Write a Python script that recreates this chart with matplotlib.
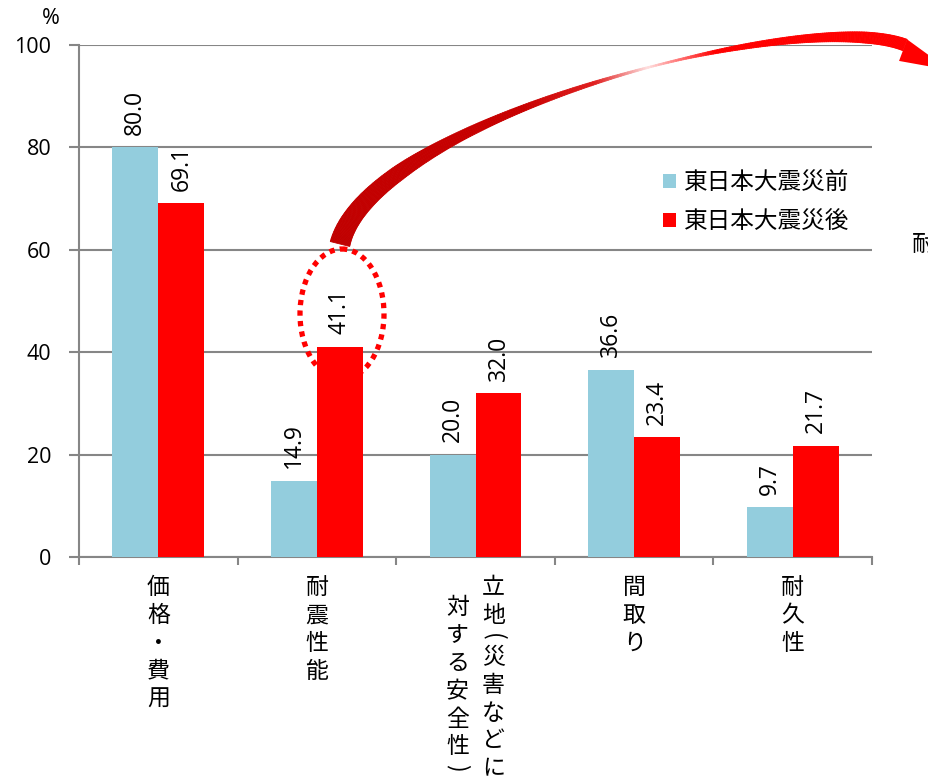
import numpy as np
import matplotlib
matplotlib.use("Agg")
import matplotlib.pyplot as plt
from matplotlib.patches import Ellipse, Polygon
from matplotlib.collections import PolyCollection
from matplotlib.colors import to_rgb

plt.rcParams['font.family'] = ['Noto Sans CJK JP', 'DejaVu Sans']
NUM_FONT = ["Open Sans", "DejaVu Sans"]

# data
categories = [["価格・費用"], ["耐震性能"], ["立地(災害などに", "対する安全性)"], ["間取り"], ["耐久性"]]
before = [80.0, 14.9, 20.0, 36.6, 9.7]
after = [69.1, 41.1, 32.0, 23.4, 21.7]
series_names = ["東日本大震災前", "東日本大震災後"]
colors = ["#93CDDD", "#FF0000"]

W, H = 929, 782
PT = 0.72  # points per pixel at dpi 100
fig = plt.figure(figsize=(W / 100, H / 100), dpi=100)
ax = fig.add_axes([79 / W, 1 - 557 / H, (872 - 79) / W, (557 - 45) / H])

x = np.arange(len(categories))
bw = 0.29
b1 = ax.bar(x - bw / 2, before, bw, color=colors[0], label=series_names[0], zorder=3)
b2 = ax.bar(x + bw / 2, after, bw, color=colors[1], label=series_names[1], zorder=3)

for bars, vals in [(b1, before), (b2, after)]:
    for rect, v in zip(bars, vals):
        ax.annotate(f"{v:.1f}", (rect.get_x() + rect.get_width() / 2, v),
                    xytext=(0, 9), textcoords="offset points",
                    rotation=90, ha="center", va="bottom", fontsize=16.5,
                    family=NUM_FONT, zorder=4)

ax.set_xlim(-0.5, len(categories) - 0.5)
ax.set_ylim(0, 100)
ax.set_yticks(range(0, 101, 20))
ax.tick_params(axis="y", labelsize=15.5, length=7, color="#868686", width=1.5, pad=13)
ax.yaxis.grid(True, color="#868686", lw=1.5, zorder=0)
ax.set_xticks(x)
ax.set_xticklabels([])
ax.tick_params(axis="x", length=0)
ax.set_xticks(np.arange(-0.5, len(categories)), minor=True)
ax.tick_params(axis="x", which="minor", length=6, color="#868686", width=1.5)
for s in ["top", "right"]:
    ax.spines[s].set_visible(False)
for s in ["left", "bottom"]:
    ax.spines[s].set_color("#868686")
    ax.spines[s].set_linewidth(1.5)
for lab in ax.get_yticklabels():
    lab.set_family(NUM_FONT)

ax.annotate("%", (0, 1), xycoords="axes fraction", xytext=(-28 * PT, 27 * PT),
            textcoords="offset points", ha="center", va="center",
            fontsize=15.5, family=NUM_FONT)

# vertical category labels, columns read right to left, one glyph per slot
for i, cols in enumerate(categories):
    n = len(cols)
    for j, col in enumerate(cols):
        dx = ((n - 1) / 2 - j) * 36
        top = 17 + j * 20  # pixels below the x axis
        for ch in col:
            half = ch in "()"
            slot = 14 if half else 27.8
            yc = top + slot / 2
            ax.annotate(ch, (i, 0), xytext=(dx * PT, -yc * PT), textcoords="offset points",
                        ha="center", va="center", fontsize=16.5,
                        rotation=-90 if half else 0, annotation_clip=False)
            top += slot

leg = ax.legend(loc="upper left", bbox_to_anchor=(0.7364, 0.753), frameon=False,
                fontsize=17, handlelength=0.55, handleheight=0.55, handletextpad=0.35,
                labelspacing=0.66, borderpad=0, borderaxespad=0)

# overlay in pixel coordinates for the decorations
ov = fig.add_axes([0, 0, 1, 1], zorder=10)
ov.set_xlim(0, W)
ov.set_ylim(H, 0)
ov.axis("off")
ov.patch.set_alpha(0)

ov.add_patch(Ellipse((342, 314), 84, 130, fill=False, ec="#FF0000", lw=3.8,
                     ls=(0, (1, 1))))

# curved tapered arrow
P = np.array([[340, 244], [370, 120], [800, 5], [905, 45]], dtype=float)
t = np.linspace(0, 1, 300)[:, None]
pts = ((1 - t) ** 3 * P[0] + 3 * t * (1 - t) ** 2 * P[1]
       + 3 * t ** 2 * (1 - t) * P[2] + t ** 3 * P[3])
d = np.gradient(pts, axis=0)
d /= np.linalg.norm(d, axis=1)[:, None]
nrm = np.column_stack([d[:, 1], -d[:, 0]])  # points up-left in pixel space
tt = t[:, 0]
wid = np.interp(tt, [0, 0.2, 0.3, 0.38, 0.46, 0.53, 0.58, 0.62, 0.7, 0.8, 0.9, 1],
                [20, 15, 10, 7, 4.5, 2.5, 1.5, 2, 5, 8, 11, 12])
ck = [0, 0.4, 0.5, 0.57, 0.6, 0.66, 1]
cv = np.array([to_rgb(c) for c in ["#C00000", "#C80000", "#E02020", "#FFE0E0",
                                   "#FF9090", "#FF0000", "#FF0000"]])
up = pts + nrm * wid[:, None] / 2
lo = pts - nrm * wid[:, None] / 2
quads, cols = [], []
for k in range(len(tt) - 1):
    quads.append([up[k], up[k + 1], lo[k + 1], lo[k]])
    cols.append([np.interp(tt[k], ck, cv[:, c]) for c in range(3)])
ov.add_collection(PolyCollection(quads, facecolors=cols, edgecolors=cols, lw=0.6))
e, dv, nv = P[3], d[-1], nrm[-1]
head = [e + nv * 6, e + dv * 50 - nv * 8, e - nv * 17, e - nv * 6]
ov.add_patch(Polygon(head, color="#FF0000", lw=0))

fig.text(912 / W, 1 - 244 / H, "耐", fontsize=16.5, ha="left", va="center")

fig.savefig("out.png", dpi=100)
